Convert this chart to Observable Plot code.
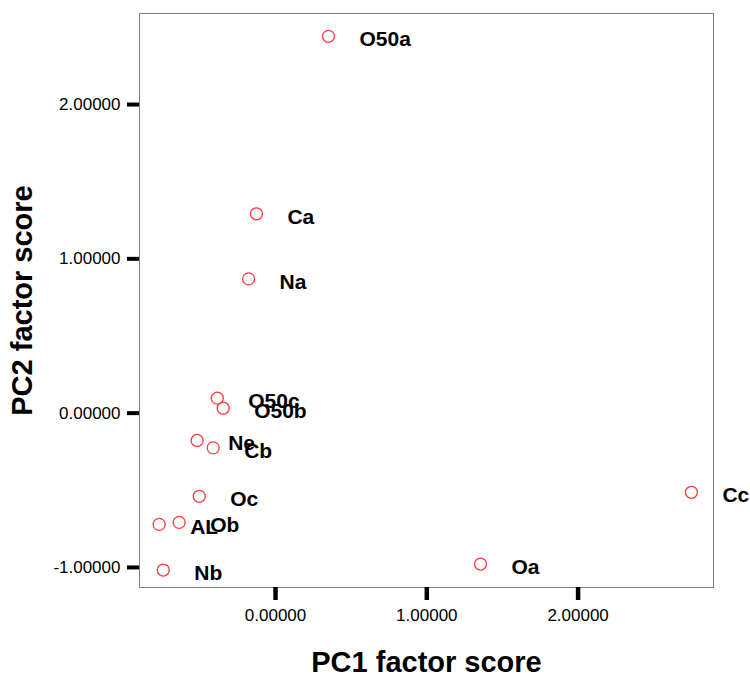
<!DOCTYPE html>
<html>
<head>
<meta charset="utf-8">
<script src="https://cdn.jsdelivr.net/npm/d3@7"></script>
<script src="https://cdn.jsdelivr.net/npm/@observablehq/plot@0.6"></script>
<style>
  html, body { margin: 0; padding: 0; background: #fff; }
</style>
</head>
<body>
<div id="chart"></div>
<script>
const labels = ["O50a", "Ca", "Na", "O50c", "O50b", "Ne", "Cb", "Oc", "AL", "Ob", "Nb", "Oa", "Cc"];
const pc1 = [0.350, -0.126, -0.178, -0.385, -0.346, -0.518, -0.412, -0.504, -0.769, -0.637, -0.742, 1.355, 2.749];
const pc2 = [2.442, 1.292, 0.870, 0.097, 0.032, -0.177, -0.225, -0.539, -0.721, -0.708, -1.017, -0.978, -0.513];
const xTicks = [0, 1, 2];
const yTicks = [-1, 0, 1, 2];
const xTitle = "PC1 factor score";
const yTitle = "PC2 factor score";

const data = labels.map((l, i) => ({label: l, x: pc1[i], y: pc2[i]}));
const fmt = d3.formatLocale({decimal: ".", thousands: ",", grouping: [3], currency: ["", ""], minus: "-"}).format(".5f");

const chart = Plot.plot({
  width: 750,
  height: 677,
  marginLeft: 139,
  marginRight: 37,
  marginTop: 13,
  marginBottom: 90,
  style: {fontFamily: "'Liberation Sans', Arial, sans-serif", fontSize: "17px", color: "#000", background: "#fff"},
  x: {domain: [-0.899, 2.895]},
  y: {domain: [-1.13, 2.59]},
  marks: [
    Plot.frame({stroke: "#808080", strokeWidth: 1}),
    Plot.axisX({ticks: xTicks, tickFormat: fmt, tickSize: 13, tickPadding: 8, strokeWidth: 4.5, stroke: "#000", fontSize: 17, label: null}),
    Plot.axisY({ticks: yTicks, tickFormat: fmt, tickSize: 12, tickPadding: 7, strokeWidth: 4, stroke: "#000", fontSize: 17, label: null}),
    Plot.dot(data, {x: "x", y: "y", r: 6, stroke: "#ff3b3b", fill: "none", strokeWidth: 1.3}),
    Plot.text(data, {x: "x", y: "y", text: "label", textAnchor: "start", dx: 31, dy: 3, fontSize: 21, fontWeight: "bold", fill: "#000"}),
    Plot.text([xTitle], {frameAnchor: "bottom", textAnchor: "middle", lineAnchor: "middle", dy: 75, fontSize: 29, fontWeight: "bold", fill: "#000"}),
    Plot.text([yTitle], {frameAnchor: "left", textAnchor: "middle", lineAnchor: "middle", dx: -117, rotate: -90, fontSize: 29, fontWeight: "bold", fill: "#000"})
  ]
});
document.getElementById("chart").appendChild(chart);
</script>
</body>
</html>
